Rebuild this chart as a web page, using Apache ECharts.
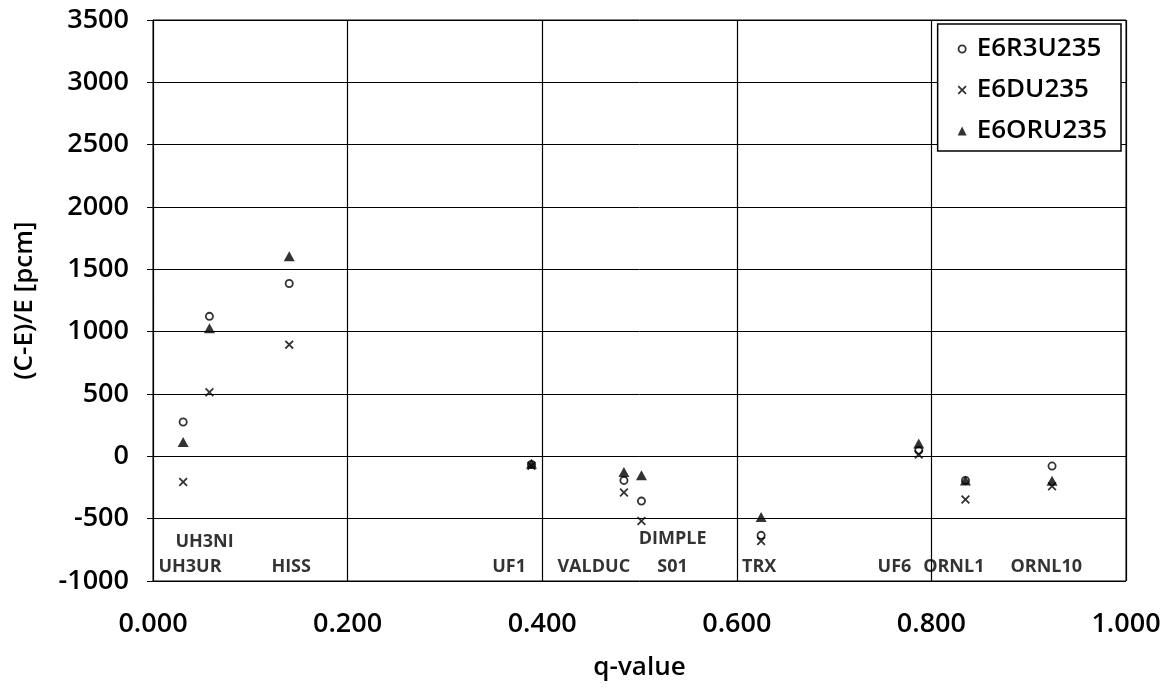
<!DOCTYPE html>
<html>
<head>
<meta charset="utf-8">
<script src="https://cdn.jsdelivr.net/npm/echarts@6/dist/echarts.min.js"></script>
<style>
  html, body { margin: 0; padding: 0; background: #fff; }
  #chart { width: 1167px; height: 695px; }
</style>
</head>
<body>
<div id="chart"></div>
<script>
// q-values of the benchmark experiments
var qValues = [0.031, 0.058, 0.140, 0.389, 0.484, 0.502, 0.625, 0.787, 0.835, 0.924];
// (C-E)/E in pcm for each library
var r3u235 = [275, 1123, 1386, -65, -193, -359, -634, 48, -193, -78];
var du235 = [-206, 514, 896, -75, -291, -519, -680, 14, -347, -240];
var oru235 = [115, 1027, 1605, -60, -126, -152, -487, 102, -193, -195];

// experiment names written inside the plot
var labelNames = ['UH3NI', 'UH3UR', 'HISS', 'UF1', 'VALDUC', 'DIMPLE', 'S01', 'TRX', 'UF6', 'ORNL1', 'ORNL10'];
var labelQ = [0.053, 0.038, 0.142, 0.366, 0.453, 0.534, 0.534, 0.623, 0.762, 0.823, 0.918];
var labelY = [-690, -885, -885, -885, -885, -665, -885, -885, -885, -885, -885];

var seriesNames = ['E6R3U235', 'E6DU235', 'E6ORU235'];
// symbols: ring, cross, triangle
var ringPath = 'path://M5,0A5,5,0,1,1,5,10A5,5,0,1,1,5,0ZM5,2A3,3,0,1,0,5,8A3,3,0,1,0,5,2Z';
var crossPath = 'path://M0,1.4L1.4,0L5,3.6L8.6,0L10,1.4L6.4,5L10,8.6L8.6,10L5,6.4L1.4,10L0,8.6L3.6,5Z';
var fontName = '"Open Sans", "DejaVu Sans", sans-serif';

function pairs(ys) {
  return qValues.map(function (q, i) { return [q, ys[i]]; });
}

var chart = echarts.init(document.getElementById('chart'));

var option = {
  animation: false,
  backgroundColor: '#fff',
  textStyle: { fontFamily: fontName, color: '#000' },
  grid: { left: 153, right: 41, top: 20, bottom: 114, show: true, borderColor: '#000', borderWidth: 1 },
  legend: {
    orient: 'vertical',
    right: 46,
    top: 24,
    backgroundColor: '#fff',
    borderColor: '#000',
    borderWidth: 1.5,
    borderRadius: 0,
    padding: [10, 14, 5, 20],
    itemGap: 11,
    itemWidth: 9,
    itemHeight: 9,
    textStyle: { fontSize: 26, fontWeight: 600, lineHeight: 30, color: '#000', fontFamily: fontName, padding: [0, 0, 0, 5] },
    data: [
      { name: 'E6R3U235', icon: ringPath },
      { name: 'E6DU235', icon: crossPath },
      { name: 'E6ORU235', icon: 'triangle' }
    ]
  },
  xAxis: {
    type: 'value',
    min: 0,
    max: 1,
    interval: 0.2,
    name: 'q-value',
    nameLocation: 'middle',
    nameGap: 74,
    nameTextStyle: { fontSize: 26, fontWeight: 600, color: '#000' },
    axisLine: { lineStyle: { color: '#000', width: 1 } },
    axisTick: { show: true, length: 8, lineStyle: { color: '#000' } },
    axisLabel: {
      fontSize: 27, fontWeight: 600, color: '#000', margin: 30,
      formatter: function (v) { return v.toFixed(3); }
    },
    splitLine: { show: true, lineStyle: { color: '#000', width: 1.2 } }
  },
  yAxis: {
    type: 'value',
    min: -1000,
    max: 3500,
    interval: 500,
    name: '(C-E)/E [pcm]',
    nameLocation: 'middle',
    nameGap: 115,
    nameTextStyle: { fontSize: 26, fontWeight: 600, color: '#000' },
    axisLine: { show: true, lineStyle: { color: '#000', width: 1 } },
    axisTick: { show: true, length: 6, lineStyle: { color: '#000' } },
    axisLabel: {
      fontSize: 27, fontWeight: 600, color: '#000', margin: 24,
      formatter: function (v) { return String(v); }
    },
    splitLine: { show: true, lineStyle: { color: '#000', width: 1 } }
  },
  series: [
    {
      name: seriesNames[0],
      type: 'scatter',
      symbol: ringPath,
      symbolSize: 9,
      itemStyle: { color: '#000' },
      data: pairs(r3u235)
    },
    {
      name: seriesNames[1],
      type: 'scatter',
      symbol: crossPath,
      symbolSize: 9,
      itemStyle: { color: '#000' },
      data: pairs(du235)
    },
    {
      name: seriesNames[2],
      type: 'scatter',
      symbol: 'triangle',
      symbolSize: [11, 10],
      itemStyle: { color: '#000' },
      data: pairs(oru235)
    },
    {
      name: 'labels',
      type: 'scatter',
      symbolSize: 0,
      silent: true,
      label: {
        show: true,
        position: 'inside',
        formatter: function (p) { return p.data[2]; },
        fontSize: 18,
        fontWeight: 'bold',
        color: '#000',
        fontFamily: fontName
      },
      data: labelQ.map(function (q, i) { return [q, labelY[i], labelNames[i]]; })
    }
  ]
};

chart.setOption(option);
</script>
</body>
</html>
